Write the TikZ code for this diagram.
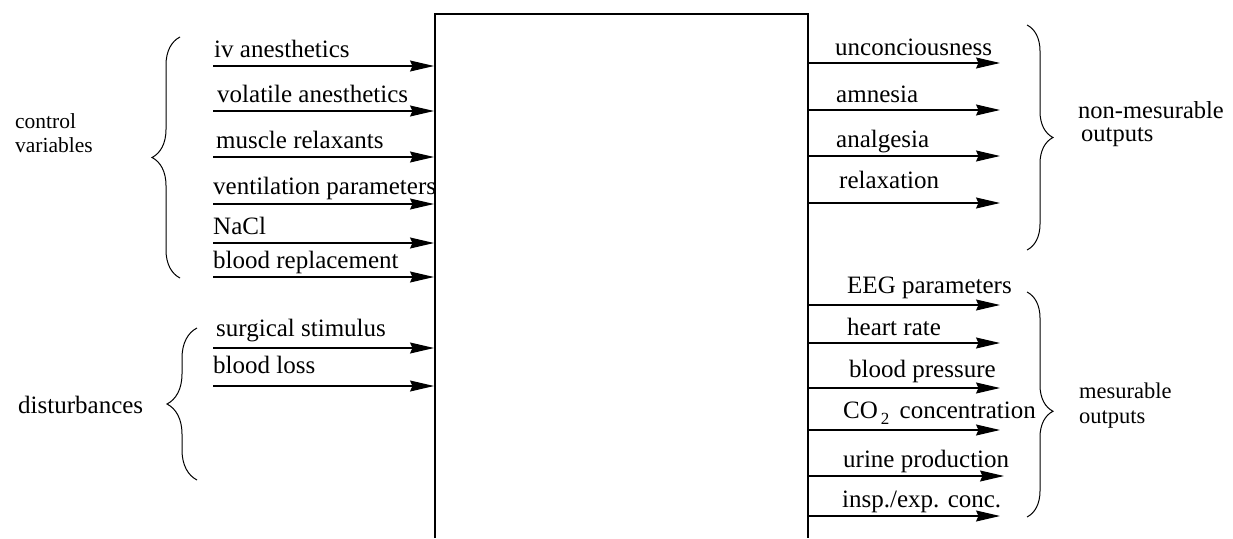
\documentclass[tikz,border=0pt]{standalone}
\usepackage{fontspec}
\setmainfont{Liberation Serif}
\usetikzlibrary{arrows.meta,decorations.pathreplacing}

\begin{document}
\begin{tikzpicture}[x=1pt,y=-1pt,
  lab/.style={anchor=base west, inner sep=0pt, font=\fontsize{25}{30}\selectfont},
  grp/.style={anchor=base west, inner sep=0pt, font=\fontsize{#1}{27}\selectfont},
  grp/.default=23,
  flow/.style={-{Stealth[length=24pt,width=11pt,inset=2.5pt]}, line width=1.1pt},
  curly/.style={decorate, line width=1pt,
    decoration={brace, amplitude=#1}},
  curly/.default=28pt]
\useasboundingbox (0,0) rectangle (1233,538);

% the open-bottomed system block
\coordinate (bl) at (435,538);
\coordinate (tl) at (435,14);
\coordinate (tr) at (808,14);
\coordinate (br) at (808,538);
\draw[line width=1.4pt] (bl) -- (tl) -- (tr) -- (br);

% ---- inputs: control variables
\coordinate (i1s) at (213,66);  \coordinate (i1e) at (434,66);
\coordinate (i2s) at (213,111); \coordinate (i2e) at (434,111);
\coordinate (i3s) at (213,157); \coordinate (i3e) at (434,157);
\coordinate (i4s) at (213,204); \coordinate (i4e) at (434,204);
\coordinate (i5s) at (213,243); \coordinate (i5e) at (434,243);
\coordinate (i6s) at (213,277); \coordinate (i6e) at (434,277);
\draw[flow] (i1s) -- (i1e);
\draw[flow] (i2s) -- (i2e);
\draw[flow] (i3s) -- (i3e);
\draw[flow] (i4s) -- (i4e);
\draw[flow] (i5s) -- (i5e);
\draw[flow] (i6s) -- (i6e);
\node[lab] (iv)   at (214,57)  {iv anesthetics};
\node[lab] (vol)  at (217,102) {volatile anesthetics};
\node[lab] (mus)  at (216,148) {muscle relaxants};
\node[lab] (ven)  at (213,194) {ventilation parameters};
\node[lab] (nacl) at (213,234) {NaCl};
\node[lab] (brep) at (213,268) {blood replacement};

% ---- inputs: disturbances
\coordinate (d1s) at (213,348); \coordinate (d1e) at (434,348);
\coordinate (d2s) at (213,386); \coordinate (d2e) at (434,386);
\draw[flow] (d1s) -- (d1e);
\draw[flow] (d2s) -- (d2e);
\node[lab] (surg) at (216,336) {surgical stimulus};
\node[lab] (bl2)  at (213,373) {blood loss};

% ---- outputs: non-measurable
\coordinate (o1s) at (808,63);  \coordinate (o1e) at (1000,63);
\coordinate (o2s) at (808,110); \coordinate (o2e) at (1000,110);
\coordinate (o3s) at (808,156); \coordinate (o3e) at (1000,156);
\coordinate (o4s) at (808,203); \coordinate (o4e) at (1000,203);
\draw[flow] (o1s) -- (o1e);
\draw[flow] (o2s) -- (o2e);
\draw[flow] (o3s) -- (o3e);
\draw[flow] (o4s) -- (o4e);
\node[lab] (unc) at (835,55)  {unconciousness};
\node[lab] (amn) at (836,102) {amnesia};
\node[lab] (ana) at (836,147) {analgesia};
\node[lab] (rel) at (839,188) {relaxation};

% ---- outputs: measurable
\coordinate (m1s) at (808,305); \coordinate (m1e) at (1000,305);
\coordinate (m2s) at (808,343); \coordinate (m2e) at (1000,343);
\coordinate (m3s) at (808,388); \coordinate (m3e) at (1000,388);
\coordinate (m4s) at (808,430); \coordinate (m4e) at (1000,430);
\coordinate (m5s) at (808,476); \coordinate (m5e) at (1004,476);
\coordinate (m6s) at (808,516); \coordinate (m6e) at (1000,516);
\draw[flow] (m1s) -- (m1e);
\draw[flow] (m2s) -- (m2e);
\draw[flow] (m3s) -- (m3e);
\draw[flow] (m4s) -- (m4e);
\draw[flow] (m5s) -- (m5e);
\draw[flow] (m6s) -- (m6e);
\node[lab] (eeg)  at (847,293) {EEG parameters};
\node[lab] (hr)   at (847,335) {heart rate};
\node[lab] (bp)   at (849,377) {blood pressure};
\node[lab] (co2)  at (843,418) {CO\raisebox{-0.25em}{\fontsize{17}{17}\selectfont\,2}\, concentration};
\node[lab] (uri)  at (843,467) {urine production};
\node[lab] (insp) at (842,507) {insp./exp. conc.};

% ---- braces
\coordinate (cb1) at (180,278); \coordinate (cb2) at (180,37);
\draw[curly=28pt] (cb1) -- (cb2);
\coordinate (db1) at (197,480); \coordinate (db2) at (197,328);
\draw[curly=30pt] (db1) -- (db2);
\coordinate (nb1) at (1027,25);  \coordinate (nb2) at (1027,250);
\draw[curly=26pt] (nb1) -- (nb2);
\coordinate (mb1) at (1027,292); \coordinate (mb2) at (1027,517);
\draw[curly=26pt,decoration={aspect=0.53}] (mb1) -- (mb2);

% ---- group labels
\node[grp=21.5] (cv1) at (15,128) {control};
\node[grp=21.5] (cv2) at (15,152) {variables};
\node[grp=25] (dist) at (18,413) {disturbances};
\node[grp=24.5] (nm1) at (1078,118) {non-mesurable};
\node[grp=24.5] (nm2) at (1081,141) {outputs};
\node[grp=22.5] (ms1) at (1079,398) {mesurable};
\node[grp=22.5] (ms2) at (1079,423) {outputs};
\end{tikzpicture}
\end{document}
